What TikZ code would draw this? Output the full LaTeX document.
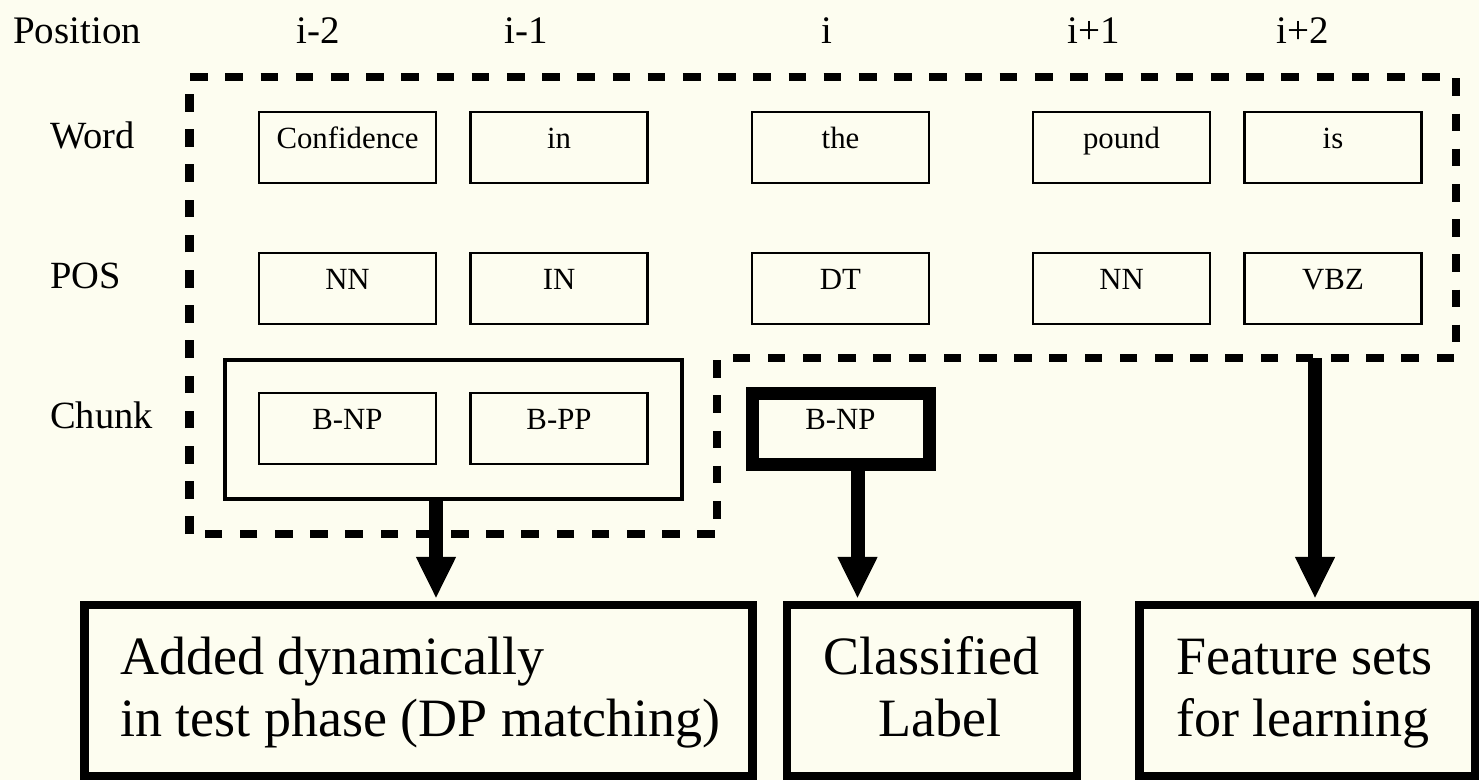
\documentclass[tikz,border=0pt]{standalone}
\usepackage{fontspec}
\setmainfont{Liberation Serif}
\usetikzlibrary{arrows.meta}
\definecolor{bgcol}{RGB}{253,253,240}
\begin{document}
\begin{tikzpicture}[x=1pt,y=-1pt,
  hdr/.style={inner sep=0pt, font=\fontsize{39}{45}\selectfont},
  lbl/.style={inner sep=0pt, font=\fontsize{38.5}{45}\selectfont},
  bigtxt/.style={inner sep=0pt, font=\fontsize{54}{62}\selectfont},
  cell/.style={draw, line width=2.4pt, inner sep=0pt, minimum width=177pt,
    text height=36pt, text depth=35pt, font=\fontsize{30.8}{37}\selectfont},
  thickcell/.style={cell, line width=13pt},
  grpbox/.style={draw, line width=4pt, inner sep=0pt},
  outbox/.style={draw, line width=8.5pt, inner sep=0pt},
  dashpoly/.style={line width=8.5pt, dash pattern=on 17.6pt off 17.6pt},
  bigarrow/.style={line width=14pt, -{Triangle[length=42pt,width=37pt]}, shorten >=2pt}
]
\fill[bgcol] (0,0) rectangle (1479,780);
\useasboundingbox (0,0) rectangle (1479,780);

% header
\node[hdr, anchor=base west] (hpos) at (13,43) {Position};
\node[hdr, anchor=base] (hm2) at (318,43) {i-2};
\node[hdr, anchor=base] (hm1) at (526,43) {i-1};
\node[hdr, anchor=base] (hi) at (827,43) {i};
\node[hdr, anchor=base] (hp1) at (1094,43) {i+1};
\node[hdr, anchor=base] (hp2) at (1303,43) {i+2};

% row labels
\node[lbl, anchor=base west] (lword) at (50,148) {Word};
\node[lbl, anchor=base west] (lpos) at (50,288) {POS};
\node[lbl, anchor=base west] (lchunk) at (50,428) {Chunk};

% word row
\node[cell] (w1) at (347.5,147.5) {Confidence};
\node[cell] (w2) at (559,147.5) {in};
\node[cell] (w3) at (840.5,147.5) {the};
\node[cell] (w4) at (1121.5,147.5) {pound};
\node[cell] (w5) at (1333,147.5) {is};

% POS row
\node[cell] (p1) at (347.5,288.5) {NN};
\node[cell] (p2) at (559,288.5) {IN};
\node[cell] (p3) at (840.5,288.5) {DT};
\node[cell] (p4) at (1121.5,288.5) {NN};
\node[cell] (p5) at (1333,288.5) {VBZ};

% chunk row
\node[grpbox, minimum width=457pt, minimum height=139pt] (grp) at (453.5,429) {};
\node[cell] (c1) at (347.5,428.5) {B-NP};
\node[cell] (c2) at (559,428.5) {B-PP};
\node[thickcell] (c3) at (840.5,428.5) {B-NP};

% dashed feature region
\draw[dashpoly] (189.5,534) -- (189.5,77) -- (1456,77) -- (1456,358) -- (717,358) -- (717,534) -- cycle;
\coordinate (feat) at (1315,358);

% bottom boxes
\node[outbox, minimum width=668pt, minimum height=171pt] (b1) at (418.5,690.5) {};
\node[outbox, minimum width=290pt, minimum height=171pt] (b2) at (932,690.5) {};
\node[outbox, minimum width=335.5pt, minimum height=171pt] (b3) at (1307.25,690.5) {};

\node[bigtxt, anchor=base west] (t1a) at (120,674) {Added dynamically};
\node[bigtxt, anchor=base west] (t1b) at (120,736) {in test phase (DP matching)};
\node[bigtxt, anchor=base west] (t2a) at (823,674) {Classified};
\node[bigtxt, anchor=base west] (t2b) at (878,736) {Label};
\node[bigtxt, anchor=base west] (t3a) at (1176,674) {Feature sets};
\node[bigtxt, anchor=base west] (t3b) at (1176,736) {for learning};

% arrows
\draw[bigarrow] ([xshift=-17.5pt]grp.south) -- ([xshift=-17.5pt]grp.south |- b1.north);
\draw[bigarrow] ([xshift=17pt]c3.south) -- ([xshift=17pt]c3.south |- b2.north);
\draw[bigarrow] (feat) -- (feat |- b3.north);
\end{tikzpicture}
\end{document}
